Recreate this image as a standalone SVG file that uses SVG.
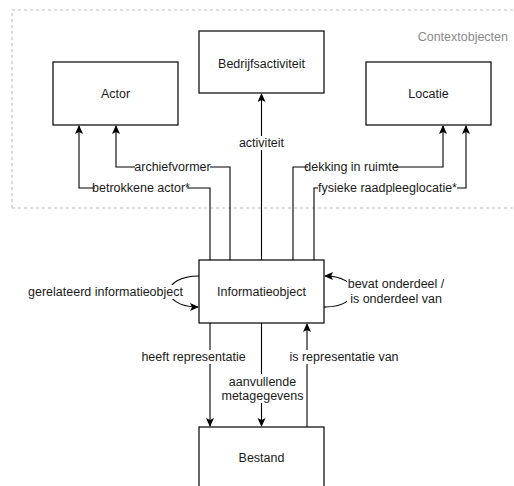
<svg xmlns="http://www.w3.org/2000/svg" width="514" height="486" viewBox="0 0 514 486">
<style>
.box{fill:#fff;stroke:#000;stroke-width:1.2}
.t{font-family:"Liberation Sans",Arial,sans-serif;font-size:12.5px;fill:#1a1a1a;text-anchor:middle}
.ln{fill:none;stroke:#000;stroke-width:1.1}
.lbg{fill:#fff}
</style>
<defs>
<marker id="arr" markerUnits="userSpaceOnUse" markerWidth="10" markerHeight="10" refX="8" refY="4" orient="auto">
<path d="M0,0 L9,4 L0,8 L2,4 z" fill="#000"/>
</marker>
</defs>
<rect width="514" height="486" fill="#fff"/>
<g id="container">
<path d="M12,208 L12,10 L520,10 M12,208 L520,208" fill="none" stroke="#bbb" stroke-width="1" stroke-dasharray="3,3"/>
<text class="t" x="508" y="41" style="text-anchor:end;fill:#8a8a8a">Contextobjecten</text>
</g>
<g id="connectors">
<path class="ln" d="M210,260 L210,188 L79,188 L79,126" marker-end="url(#arr)"/>
<path class="ln" d="M230,260 L230,167 L116,167 L116,126" marker-end="url(#arr)"/>
<path class="ln" d="M261.5,260 L261.5,94" marker-end="url(#arr)"/>
<path class="ln" d="M293,260 L293,167 L443,167 L443,126" marker-end="url(#arr)"/>
<path class="ln" d="M314,260 L314,188 L466,188 L466,126" marker-end="url(#arr)"/>
<path class="ln" d="M210,323 L210,426" marker-end="url(#arr)"/>
<path class="ln" d="M261.5,323 L261.5,426" marker-end="url(#arr)"/>
<path class="ln" d="M307,427 L307,324" marker-end="url(#arr)"/>
<path class="ln" d="M199,276 C160,276 160,307 198,307" marker-end="url(#arr)"/>
<path class="ln" d="M325,307 C362,307 362,276 325,276" marker-start="url(#arr)" marker-end="url(#arr)"/>
<rect class="lbg" x="95" y="181" width="92" height="14"/>
<text class="t" x="141" y="192">betrokkene actor*</text>
<rect class="lbg" x="135" y="160" width="75" height="14"/>
<text class="t" x="172.5" y="171">archiefvormer</text>
<rect class="lbg" x="239" y="136" width="45" height="14"/>
<text class="t" x="261.5" y="147">activiteit</text>
<rect class="lbg" x="308" y="160" width="87" height="14"/>
<text class="t" x="351.5" y="171">dekking in ruimte</text>
<rect class="lbg" x="318" y="181" width="139" height="14"/>
<text class="t" x="387.5" y="192">fysieke raadpleeglocatie*</text>
<rect class="lbg" x="142" y="350" width="103" height="14"/>
<text class="t" x="193.5" y="361">heeft representatie</text>
<rect class="lbg" x="222" y="374" width="80" height="29"/>
<text class="t" x="262.5" y="386">aanvullende</text>
<text class="t" x="262.5" y="400">metagegevens</text>
<rect class="lbg" x="290" y="350" width="108" height="14"/>
<text class="t" x="344" y="361">is representatie van</text>
<rect class="lbg" x="28" y="285" width="155" height="14"/>
<text class="t" x="105.5" y="296">gerelateerd informatieobject</text>
<rect class="lbg" x="347" y="276" width="98" height="29"/>
<text class="t" x="396" y="288">bevat onderdeel /</text>
<text class="t" x="396" y="303">is onderdeel van</text>
</g>
<g id="bedrijfsactiviteit">
<rect class="box" x="199" y="31" width="125" height="62"/>
<text class="t" x="261.5" y="68">Bedrijfsactiviteit</text>
</g>
<g id="actor">
<rect class="box" x="53" y="62" width="125" height="63"/>
<text class="t" x="115.5" y="98">Actor</text>
</g>
<g id="locatie">
<rect class="box" x="366" y="62" width="125" height="63"/>
<text class="t" x="428.5" y="98">Locatie</text>
</g>
<g id="informatieobject">
<rect class="box" x="199" y="260" width="125" height="63"/>
<text class="t" x="261.5" y="296">Informatieobject</text>
</g>
<g id="bestand">
<rect class="box" x="199" y="427" width="125" height="63"/>
<text class="t" x="261.5" y="462">Bestand</text>
</g>
</svg>
